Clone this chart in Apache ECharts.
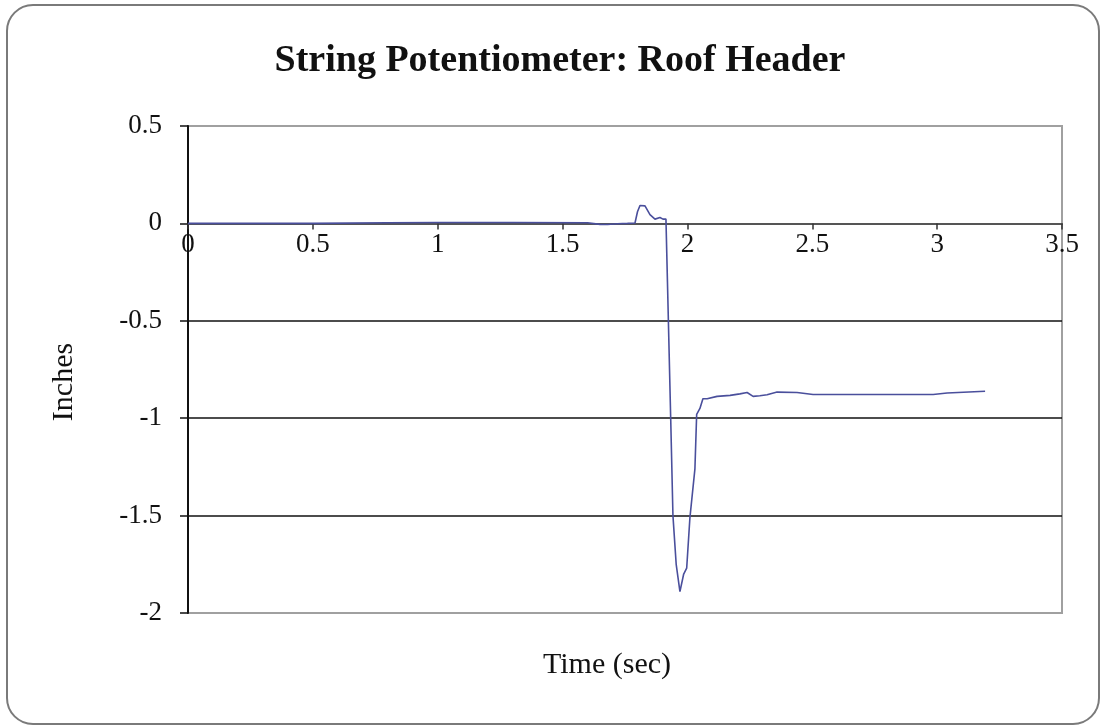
<!DOCTYPE html>
<html>
<head>
<meta charset="utf-8">
<script src="https://cdn.jsdelivr.net/npm/echarts@6/dist/echarts.min.js"></script>
<style>
html,body{margin:0;padding:0;background:#fff;}
#chart{width:1104px;height:727px;}
</style>
</head>
<body>
<div id="chart"></div>
<script>
const chartTitle = 'String Potentiometer: Roof Header';
const xAxisName = 'Time (sec)';
const yAxisName = 'Inches';
const timeSec = [0, 0.5, 0.8, 1.0, 1.3, 1.6, 1.65, 1.68, 1.72, 1.76, 1.79, 1.80, 1.81, 1.83, 1.85, 1.87, 1.89, 1.902, 1.914, 1.92, 1.933, 1.942, 1.955, 1.970, 1.985, 1.997, 2.010, 2.030, 2.037, 2.050, 2.062, 2.079, 2.119, 2.171, 2.210, 2.239, 2.263, 2.290, 2.319, 2.359, 2.439, 2.503, 2.700, 2.984, 3.040, 3.192];
const inches  = [0, 0, 0.003, 0.005, 0.005, 0.003, -0.005, -0.006, -0.002, 0.0, 0.002, 0.06, 0.092, 0.09, 0.045, 0.022, 0.03, 0.022, 0.022, -0.3, -1.0, -1.5, -1.75, -1.89, -1.80, -1.77, -1.51, -1.26, -0.98, -0.95, -0.90, -0.90, -0.888, -0.883, -0.875, -0.868, -0.888, -0.885, -0.880, -0.866, -0.868, -0.878, -0.878, -0.878, -0.871, -0.862];
const xTicks = {min: 0, max: 3.5, step: 0.5};
const yTicks = {min: -2, max: 0.5, step: 0.5};

const seriesData = timeSec.map((t, i) => [t, inches[i]]);
const serif = '"Liberation Serif", "DejaVu Serif", serif';

// grid geometry
const gridTop = 126, gridBottom = 114, chartH = 727;
const gridH = chartH - gridTop - gridBottom;
const zeroFrac = (yTicks.max - 0) / (yTicks.max - yTicks.min);
const zeroOffset = -(gridH * (1 - zeroFrac)); // move x-axis up to y = 0

const chart = echarts.init(document.getElementById('chart'));
chart.setOption({
  backgroundColor: '#ffffff',
  animation: false,
  graphic: [
    {
      type: 'rect', z: -10, silent: true,
      shape: {x: 7, y: 5, width: 1092, height: 719, r: 26},
      style: {fill: '#ffffff', stroke: '#7a7a7a', lineWidth: 2}
    },
    {
      type: 'text', z: 10,
      style: {text: chartTitle, x: 560, y: 61, textAlign: 'center', textVerticalAlign: 'middle',
        font: 'bold 38px ' + serif, fill: '#111'}
    },
    {
      type: 'text', z: 10,
      style: {text: xAxisName, x: 607, y: 665, textAlign: 'center', textVerticalAlign: 'middle',
        font: '30px ' + serif, fill: '#111'}
    },
    {
      type: 'text', z: 10, x: 64, y: 382, rotation: Math.PI / 2,
      style: {text: yAxisName, x: 0, y: 0, textAlign: 'center', textVerticalAlign: 'middle',
        font: '30px ' + serif, fill: '#111'}
    }
  ],
  grid: {
    left: 188, right: 42, top: gridTop, bottom: gridBottom,
    show: true, borderColor: '#a0a0a0', borderWidth: 2, backgroundColor: 'transparent'
  },
  xAxis: {
    type: 'value', min: xTicks.min, max: xTicks.max, interval: xTicks.step,
    offset: zeroOffset,
    axisLine: {show: true, onZero: false, lineStyle: {color: '#555', width: 2}},
    axisTick: {show: true, length: 6, lineStyle: {color: '#333', width: 1.5}},
    splitLine: {show: false},
    axisLabel: {fontFamily: serif, fontSize: 27, color: '#111', margin: 8}
  },
  yAxis: {
    type: 'value', min: yTicks.min, max: yTicks.max, interval: yTicks.step,
    axisLine: {show: true, onZero: false, lineStyle: {color: '#111', width: 2}},
    axisTick: {show: true, length: 8, lineStyle: {color: '#111', width: 1.5}},
    splitLine: {show: true, lineStyle: {color: ['#a0a0a0', '#111', '#111', '#111', '#555', '#a0a0a0'], width: 1.5}},
    axisLabel: {fontFamily: serif, fontSize: 27, color: '#111', margin: 26}
  },
  series: [{
    type: 'line',
    data: seriesData,
    showSymbol: false,
    smooth: false,
    lineStyle: {color: '#4a4f9c', width: 1.6},
    z: 5
  }]
});
</script>
</body>
</html>
